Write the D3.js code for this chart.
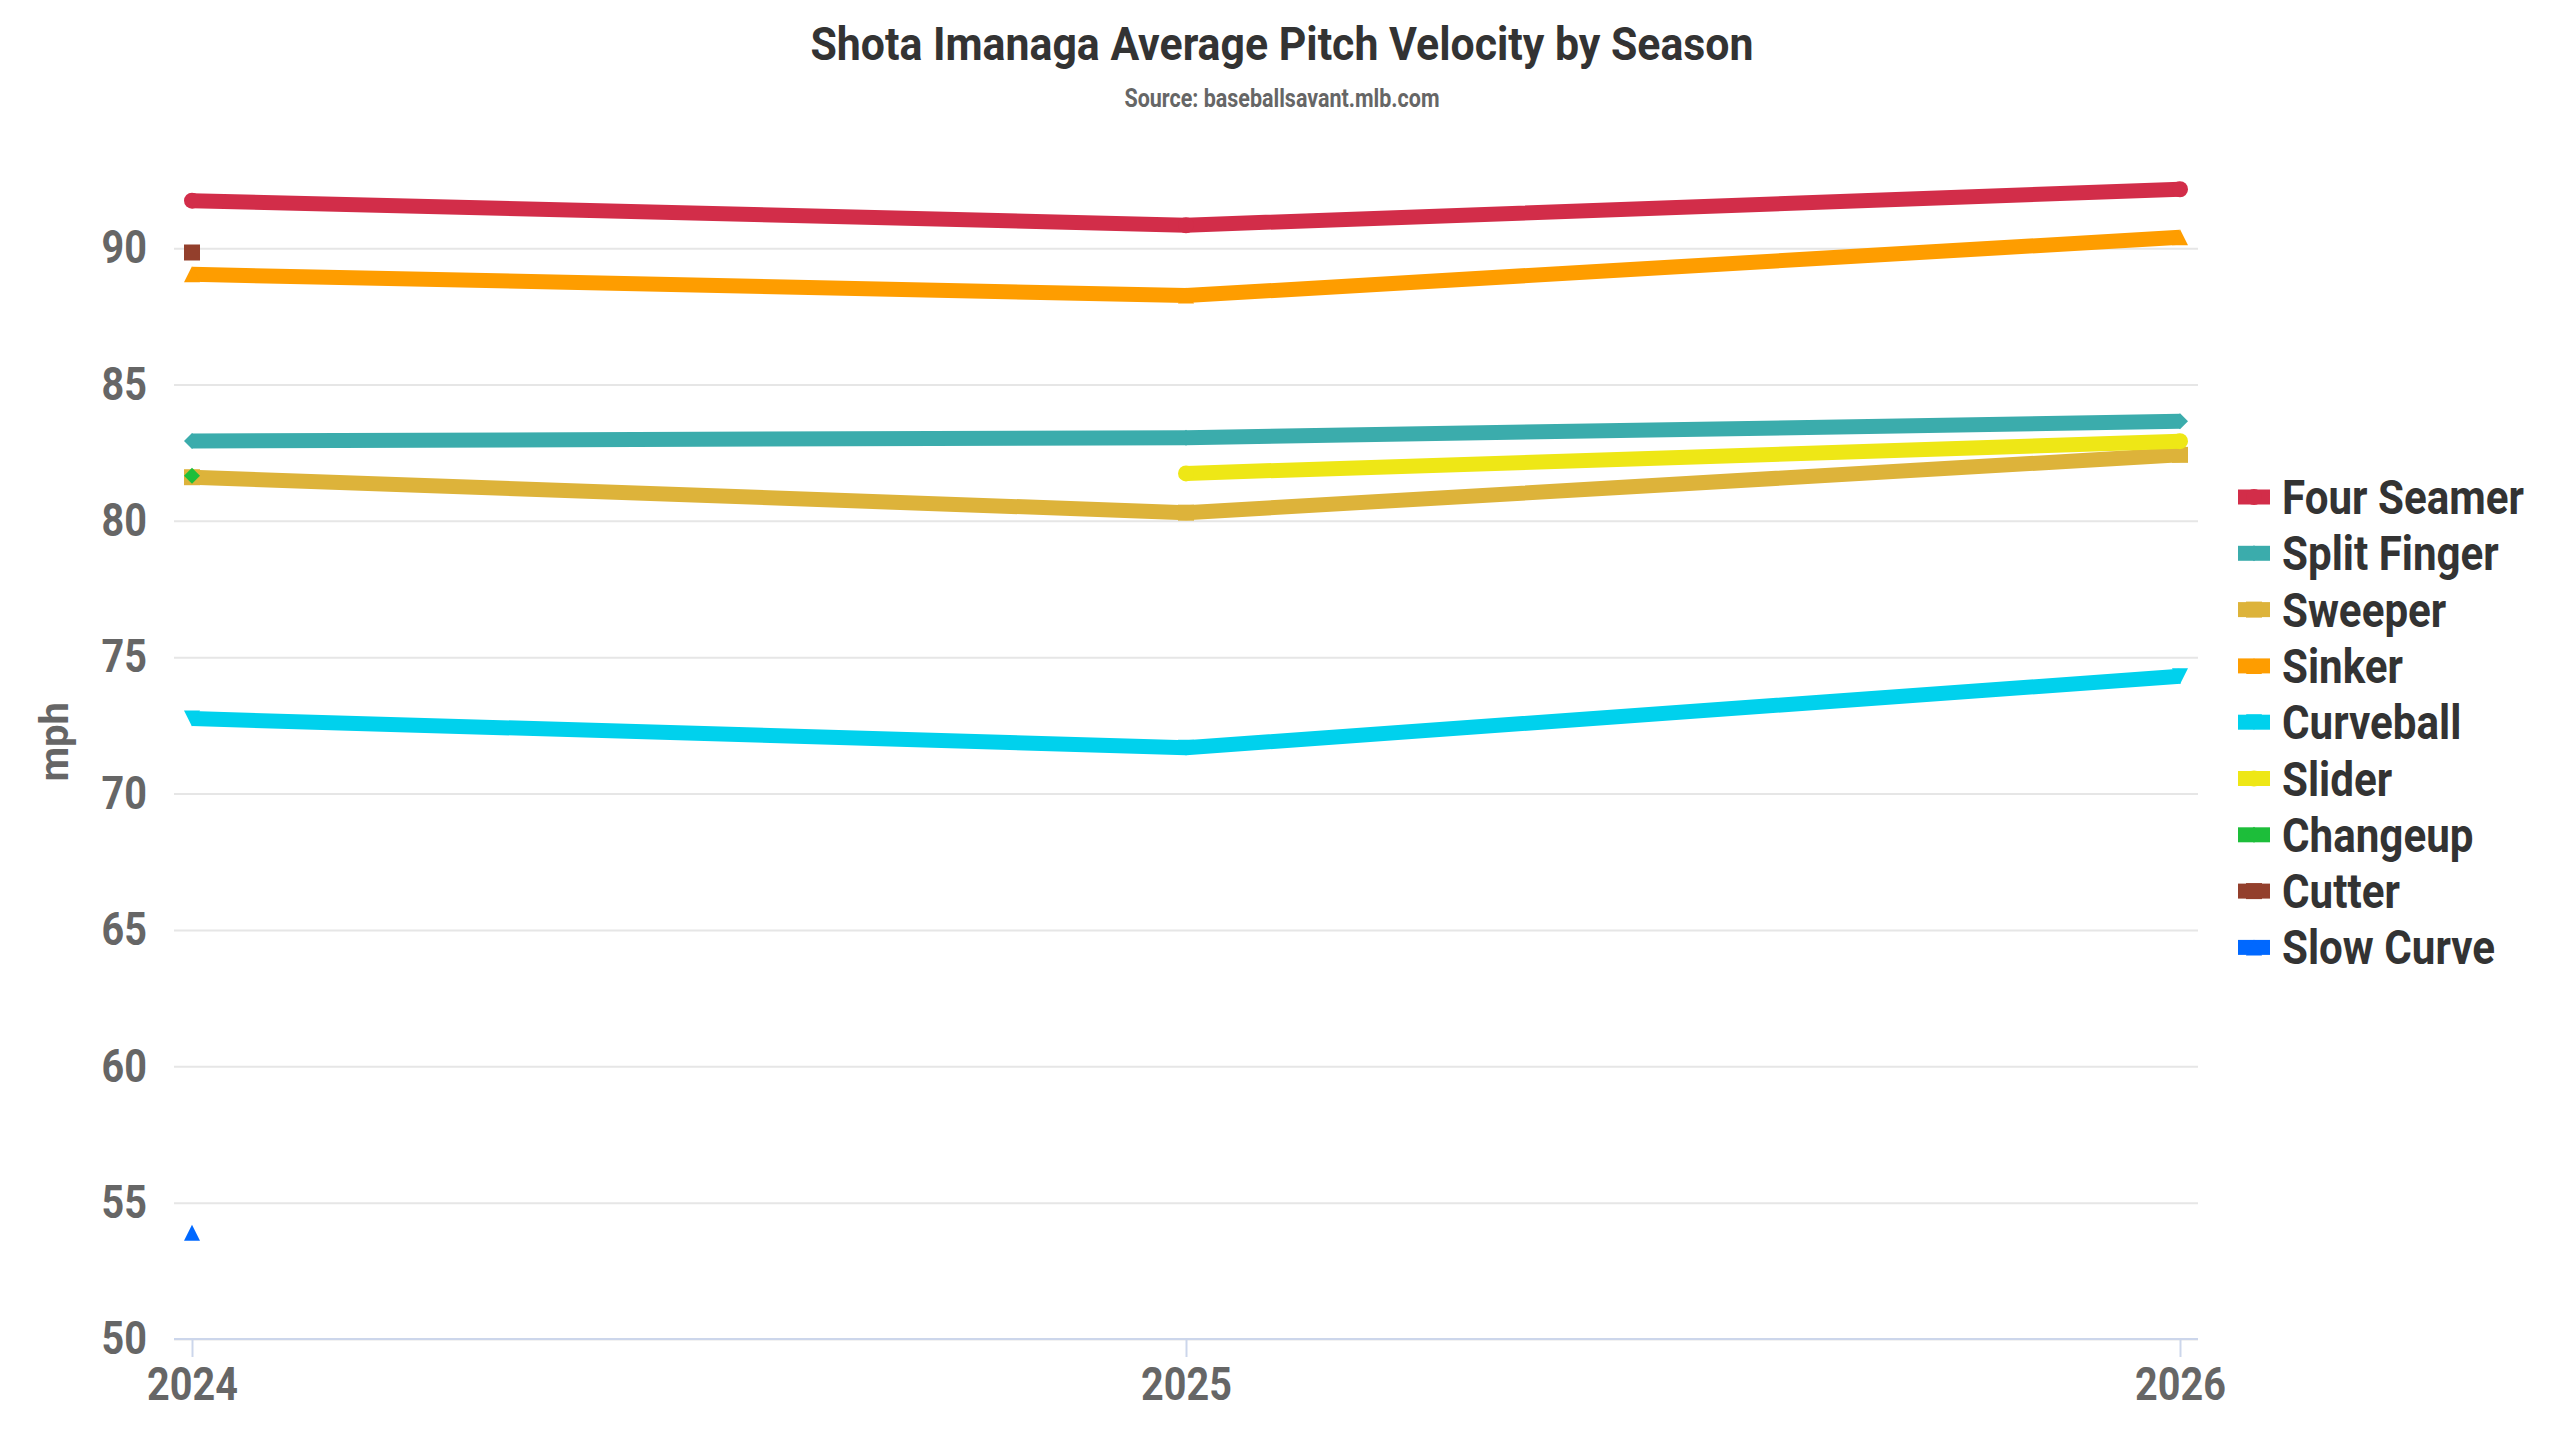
<!DOCTYPE html>
<html>
<head>
<meta charset="utf-8">
<script src="https://cdn.jsdelivr.net/npm/d3@7"></script>
<style>
body { margin: 0; background: #fff; }
text { font-family: Roboto, "Noto Sans", sans-serif; font-weight: 700; }
</style>
</head>
<body>
<svg id="pic" width="2560" height="1440"></svg>
<script>
var seasons = [2024, 2025, 2026];
var yTicks = [50, 55, 60, 65, 70, 75, 80, 85, 90];

var pitchNames = ["Four Seamer", "Split Finger", "Sweeper", "Sinker", "Curveball", "Slider", "Changeup", "Cutter", "Slow Curve"];
var pitchColors = ["#d22d49", "#3bacac", "#ddb33a", "#fe9d00", "#00d1ed", "#eee716", "#1dbe3a", "#933f2c", "#0068ff"];
var pitchMarkers = ["circle", "diamond", "square", "triangle", "triangle-down", "circle", "diamond", "square", "triangle"];

var fourSeamer = [91.74, 90.84, 92.16];
var splitFinger = [82.93, 83.05, 83.65];
var sweeper = [81.6, 80.3, 82.42];
var sinker = [89.04, 88.26, 90.4];
var curveball = [72.75, 71.68, 74.3];
var slider = [null, 81.74, 82.92];
var changeup = [81.65, null, null];
var cutter = [89.84, null, null];
var slowCurve = [53.9, null, null];

var pitchValues = [fourSeamer, splitFinger, sweeper, sinker, curveball, slider, changeup, cutter, slowCurve];

var svg = d3.select("#pic");
var condense = 0.86;

// plot box
var plotLeft = 174, plotRight = 2198, plotTop = 144.5, plotBottom = 1339;

var x = d3.scaleLinear().domain([2024, 2026]).range([plotLeft + 18, plotRight - 18]);
var y = d3.scaleLinear().domain([50, 93.8]).range([plotBottom, plotTop]);

// squeeze text horizontally round its own x (stand-in for a condensed face)
function squeeze(sel) {
    sel.each(function(){
        var t = d3.select(this);
        var tx = +t.attr("x") || 0;
        t.attr("transform", "translate(" + tx + ",0) scale(" + condense + ",1) translate(" + (-tx) + ",0)");
    });
}

// y axis with grid
var yAxis = d3.axisLeft(y).tickValues(yTicks).tickSize(-(plotRight - plotLeft)).tickPadding(27);
var yg = svg.append("g").attr("transform", "translate(" + plotLeft + ",0)").call(yAxis);
yg.select(".domain").remove();
yg.selectAll("line").attr("stroke", "#e6e6e6").attr("stroke-width", 2);
yg.selectAll("text").attr("font-size", 46).attr("fill", "#666").attr("font-family", "Roboto").attr("font-weight", 700).call(squeeze);

// x axis
var xAxis = d3.axisBottom(x).tickValues(seasons).tickFormat(d3.format("d")).tickSizeOuter(0).tickSize(18).tickPadding(10);
var xg = svg.append("g").attr("transform", "translate(0," + plotBottom + ")").call(xAxis);
xg.select(".domain").remove();
xg.append("line").attr("x1", plotLeft).attr("x2", plotRight).attr("stroke", "#ccd6eb").attr("stroke-width", 2);
xg.selectAll(".tick line").attr("stroke", "#ccd6eb").attr("stroke-width", 2);
xg.selectAll("text").attr("font-size", 46).attr("fill", "#666").attr("font-family", "Roboto").attr("font-weight", 700).call(squeeze);

// axis title
svg.append("text")
    .attr("transform", "translate(68," + ((plotTop + plotBottom) / 2) + ") rotate(-90)")
    .attr("text-anchor", "middle")
    .attr("font-size", 40)
    .attr("fill", "#666")
    .text("mph");

// title
svg.append("text").attr("x", 1282).attr("y", 60).attr("text-anchor", "middle")
    .attr("font-size", 46).attr("fill", "#333")
    .attr("textLength", 943).attr("lengthAdjust", "spacingAndGlyphs")
    .text("Shota Imanaga Average Pitch Velocity by Season");
svg.append("text").attr("x", 1282).attr("y", 107).attr("text-anchor", "middle")
    .attr("font-size", 25).attr("fill", "#666")
    .text("Source: baseballsavant.mlb.com").call(squeeze);

function markerPath(type, r) {
    if (type == "circle") return d3.symbol().type(d3.symbolCircle).size(Math.PI * r * r)();
    if (type == "square") return "M" + (-r) + "," + (-r) + "H" + r + "V" + r + "H" + (-r) + "Z";
    if (type == "diamond") return "M0," + (-r) + "L" + r + ",0L0," + r + "L" + (-r) + ",0Z";
    if (type == "triangle") return "M0," + (-r) + "L" + r + "," + r + "L" + (-r) + "," + r + "Z";
    return "M" + (-r) + "," + (-r) + "L" + r + "," + (-r) + "L0," + r + "Z";
}

var line = d3.line()
    .defined(function(d){ return d != null; })
    .x(function(d, i){ return x(seasons[i]); })
    .y(function(d){ return y(d); });

// series
pitchValues.forEach(function(vals, k){
    var g = svg.append("g");
    var count = vals.filter(function(v){ return v != null; }).length;
    if (count > 1) {
        g.append("path")
            .attr("d", line(vals))
            .attr("fill", "none")
            .attr("stroke", pitchColors[k])
            .attr("stroke-width", 15)
            .attr("stroke-linejoin", "round");
    }
    vals.forEach(function(v, i){
        if (v == null) return;
        g.append("path")
            .attr("d", markerPath(pitchMarkers[k], 8))
            .attr("transform", "translate(" + x(seasons[i]) + "," + y(v) + ")")
            .attr("fill", pitchColors[k]);
    });
});

// legend
var legend = svg.append("g").attr("transform", "translate(2238,497)");
pitchNames.forEach(function(name, k){
    var row = legend.append("g").attr("transform", "translate(0," + (k * 56.3) + ")");
    row.append("line").attr("x1", 0).attr("x2", 32).attr("stroke", pitchColors[k]).attr("stroke-width", 15);
    row.append("path").attr("d", markerPath(pitchMarkers[k], 8)).attr("transform", "translate(16,0)").attr("fill", pitchColors[k]);
    row.append("text").attr("x", 44).attr("y", 17).attr("font-size", 49).attr("fill", "#333").text(name).call(squeeze);
});
</script>
</body>
</html>
